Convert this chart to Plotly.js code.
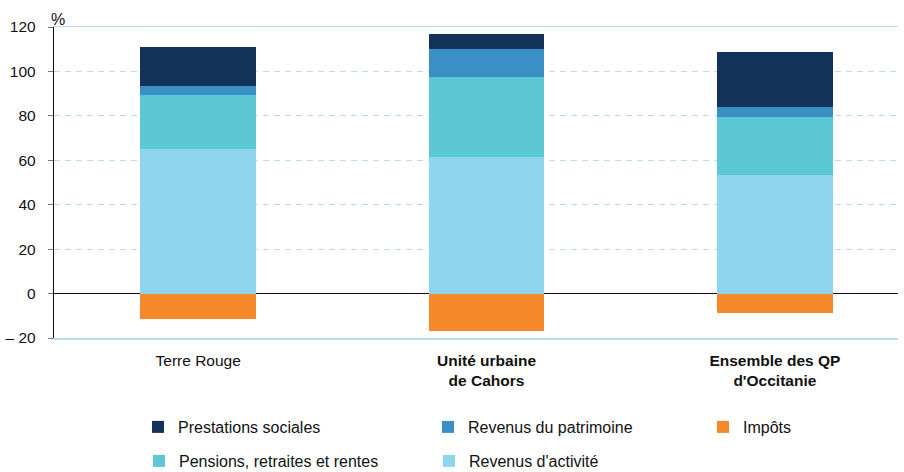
<!DOCTYPE html>
<html><head><meta charset="utf-8">
<script src="https://cdn.plot.ly/plotly-3.0.1.min.js"></script>
<style>html,body{margin:0;padding:0;background:#fff}#chart{width:904px;height:472px}</style>
</head><body><div id="chart"></div>
<script>
const categories = ["Terre Rouge", "<b>Unité urbaine<br>de Cahors</b>", "<b>Ensemble des QP<br>d'Occitanie</b>"];
const revenusActivite = [65.1, 61.5, 53.4];
const pensions = [24.3, 36.1, 26.1];
const patrimoine = [4.1, 12.6, 4.5];
const prestations = [17.6, 6.8, 24.8];
const impots = [-11.4, -16.9, -8.9];
const tickVals = [-20, 0, 20, 40, 60, 80, 100, 120];
const tickText = ["– 20", "0", "20", "40", "60", "80", "100", "120"];

const fam = "Liberation Sans, Arial, sans-serif";
const x = [0, 1, 2];
function bar(name, y, color, legend, rank) {
  return {type: "bar", name: name, x: x, y: y, width: 0.402,
    marker: {color: color, line: {width: 0}}, legend: legend, legendrank: rank, hoverinfo: "none"};
}
const data = [
  bar("Revenus d'activité", revenusActivite, "#8fd5ee", "legend2", 5),
  bar("Pensions, retraites et rentes", pensions, "#5cc8d5", "legend2", 4),
  bar("Revenus du patrimoine", patrimoine, "#3a8fc4", "legend", 2),
  bar("Prestations sociales", prestations, "#12325a", "legend", 1),
  bar("Impôts", impots, "#f5882a", "legend3", 3)
];
const legendCommon = {orientation: "h", xref: "container", yref: "container", xanchor: "left", yanchor: "middle",
  entrywidth: 245, entrywidthmode: "pixels", font: {family: fam, size: 16, color: "#111"},
  bgcolor: "rgba(0,0,0,0)", itemclick: false, itemdoubleclick: false, traceorder: "normal"};
const layout = {
  width: 904, height: 472,
  margin: {l: 53.5, r: 6, t: 27.3, b: 134.3},
  paper_bgcolor: "#fff", plot_bgcolor: "#fff",
  barmode: "relative", bargap: 0,
  font: {family: fam, size: 15, color: "#111"},
  showlegend: true,
  legend: Object.assign({}, legendCommon, {x: 138/904, y: 1 - 427/472}),
  legend2: Object.assign({}, legendCommon, {x: 139/904, y: 1 - 461/472}),
  legend3: Object.assign({}, legendCommon, {x: 703/904, y: 1 - 427/472}),
  xaxis: {range: [-0.5, 2.427], tickvals: x, ticktext: categories, ticks: "", showgrid: false,
    showline: true, linecolor: "#b8dcf0", linewidth: 1.5, mirror: true, zeroline: false,
    ticklabelstandoff: 8,
    tickfont: {family: fam, size: 15.5, color: "#111"}, fixedrange: true},
  yaxis: {range: [-20, 120], tickvals: tickVals, ticktext: tickText, ticks: "outside", ticklen: 5,
    tickcolor: "#777", tickwidth: 1, showline: true, linecolor: "#111", linewidth: 1.2,
    showgrid: true, gridcolor: "#b8dcf0", griddash: "6px,5px", gridwidth: 1.2,
    zeroline: true, zerolinecolor: "#111", zerolinewidth: 1.5,
    ticklabelstandoff: 9,
    tickfont: {family: fam, size: 15.5, color: "#111"}, fixedrange: true},
  annotations: [{text: "%", xref: "paper", yref: "paper", x: 0, y: 1, xanchor: "center", yanchor: "bottom",
    showarrow: false, font: {family: fam, size: 16, color: "#111"}, xshift: 4, yshift: -3}]
};
Plotly.newPlot("chart", data, layout, {displayModeBar: false, staticPlot: true});
</script></body></html>
